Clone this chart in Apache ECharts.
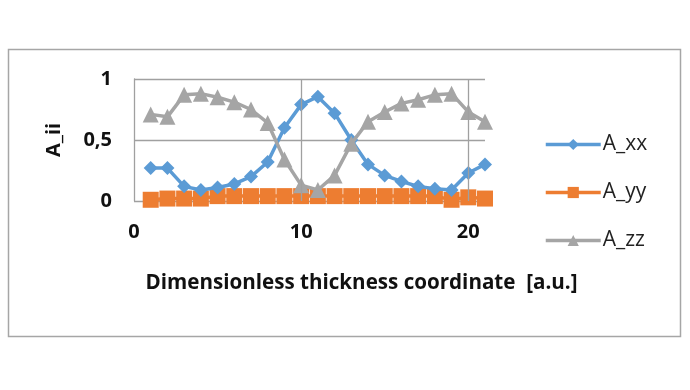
<!DOCTYPE html>
<html><head><meta charset="utf-8">
<script src="https://cdn.jsdelivr.net/npm/echarts@6/dist/echarts.min.js"></script>
<style>html,body{margin:0;padding:0;background:#fff}#c{width:690px;height:390px}</style>
</head><body><div id="c"></div>
<script>
const xs = [1,2,3,4,5,6,7,8,9,10,11,12,13,14,15,16,17,18,19,20,21];
const A_xx = [0.27,0.27,0.12,0.09,0.11,0.14,0.20,0.32,0.60,0.79,0.855,0.72,0.50,0.30,0.21,0.16,0.12,0.10,0.09,0.23,0.30];
const A_yy = [0.01,0.02,0.02,0.02,0.04,0.04,0.04,0.04,0.04,0.04,0.04,0.04,0.04,0.04,0.04,0.04,0.04,0.04,0.01,0.03,0.02];
const A_zz = [0.71,0.69,0.87,0.88,0.85,0.81,0.75,0.64,0.34,0.13,0.09,0.21,0.47,0.65,0.73,0.80,0.83,0.87,0.88,0.73,0.65];
const xTicks = [0,10,20];
const yTicks = [0,0.5,1];
const names = ['A_xx','A_yy','A_zz'];
const colors = ['#5b9bd5','#ed7d31','#a5a5a5'];
const symbols = ['diamond','rect','triangle'];
const sizes = [14,16,16];
const vals = [A_xx,A_yy,A_zz];
const font = '"Open Sans", sans-serif';
const chart = echarts.init(document.getElementById('c'));
chart.setOption({
  animation:false,
  graphic:[{type:'rect',shape:{x:8.5,y:49.5,width:672,height:287},style:{fill:'none',stroke:'#a6a6a6',lineWidth:1.5},z:-1}],
  grid:{left:134,right:205,top:79,bottom:189},
  legend:{orient:'vertical',left:539,top:129,itemGap:27,itemWidth:55,itemHeight:14,
    lineStyle:{width:3.5},
    textStyle:{fontFamily:font,fontSize:21,color:'#222',padding:[0,0,0,-3]},data:names},
  xAxis:{type:'value',min:0,max:21,interval:10,
    axisLine:{show:false},axisTick:{show:false},
    axisLabel:{showMaxLabel:false,fontFamily:font,fontSize:20,fontWeight:'bold',color:'#111',margin:21,
      formatter:v=>xTicks.includes(v)?String(v):''},
    splitLine:{show:false},
    name:'Dimensionless thickness coordinate  [a.u.]',nameLocation:'middle',nameGap:72,
    nameTextStyle:{fontFamily:font,fontSize:20.6,fontWeight:'bold',color:'#111',padding:[0,0,0,104]}},
  yAxis:{type:'value',min:0,max:1,interval:0.5,
    axisLine:{show:true,lineStyle:{color:'#a0a0a0',width:1.3}},axisTick:{show:false},
    axisLabel:{fontFamily:font,fontSize:20,fontWeight:'bold',color:'#111',margin:22,
      formatter:v=>yTicks.includes(v)?String(v).replace('.',','):''},
    splitLine:{show:true,lineStyle:{color:'#a0a0a0',width:1.3}},
    name:'A_ii',nameLocation:'middle',nameGap:70,nameRotate:90,
    nameTextStyle:{fontFamily:font,fontSize:20,fontWeight:'bold',color:'#111'}},
  series:names.map((n,i)=>({name:n,type:'line',data:xs.map((x,j)=>[x,vals[i][j]]),
    symbol:symbols[i],symbolSize:sizes[i],showAllSymbol:true,
    lineStyle:{color:colors[i],width:3.5},itemStyle:{color:colors[i]},z:[3,2,4][i],
    markLine: i===0 ? {silent:true,symbol:'none',label:{show:false},animation:false,
      lineStyle:{color:'#a0a0a0',width:1.3,type:'solid'},
      data:xTicks.filter(t=>t>0).map(t=>({xAxis:t}))} : undefined}))
});
</script></body></html>
